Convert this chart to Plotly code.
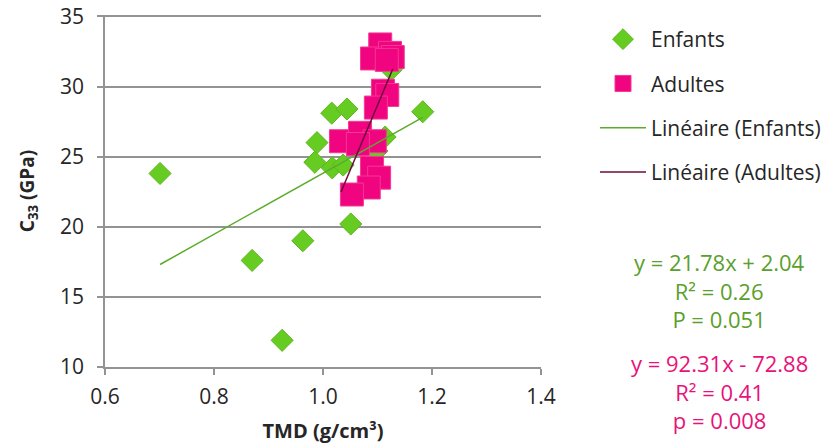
import plotly.graph_objects as go

# Enfants (children)
enf_x = [0.701, 0.870, 0.925, 0.963, 1.051, 0.985, 1.017, 1.037, 0.989, 1.016, 1.044, 1.183, 1.114, 1.099, 1.125]
enf_y = [23.8, 17.6, 11.9, 19.0, 20.2, 24.6, 24.2, 24.4, 26.0, 28.1, 28.4, 28.2, 26.4, 25.4, 31.2]
# Adultes (adults)
adu_x = [1.105, 1.090, 1.123, 1.128, 1.117, 1.110, 1.118, 1.097, 1.033, 1.068, 1.095, 1.064, 1.090, 1.103, 1.084, 1.053]
adu_y = [33.0, 32.0, 32.4, 32.1, 31.9, 29.7, 29.4, 28.5, 26.1, 26.7, 26.1, 25.9, 24.2, 23.5, 22.8, 22.3]

# regression coefficients shown on the chart
enf_slope, enf_icpt = 21.78, 2.04
adu_slope, adu_icpt = 92.31, -72.88

x_ticks = [0.6, 0.8, 1.0, 1.2, 1.4]
x_tick_labels = ["0.6", "0.8", "1.0", "1.2", "1.4"]
y_ticks = [10, 15, 20, 25, 30, 35]

ann_green = ["y = 21.78x + 2.04", "R² = 0.26", "P = 0.051"]
ann_pink = ["y = 92.31x - 72.88", "R² = 0.41", "p = 0.008"]

GREEN = "#66cc22"
PINK = "#f0047f"
FONT = "Open Sans"
TXT = "#262626"
AXC = "#939393"

W, H = 828, 446
PX0, PX1, PY0, PY1 = 105, 541, 15, 367   # plot area in page pixels
L, R, T, B = PX0, W - PX1, PY0, H - PY1
pw, ph = W - L - R, H - T - B


def px_to_paper(x, y):
    return (x - PX0) / pw, 1 - (y - PY0) / ph


fig = go.Figure()

fig.add_trace(go.Scatter(
    x=enf_x, y=enf_y, mode="markers", name="Enfants", legendgroup="a",
    marker=dict(symbol="diamond", size=17, color=GREEN,
                line=dict(color="#5cb81e", width=1)),
))
fig.add_trace(go.Scatter(
    x=adu_x, y=adu_y, mode="markers", name="Adultes", legendgroup="b",
    marker=dict(symbol="square", size=23, color=PINK,
                line=dict(color="#f23a95", width=1)),
))

ex = [min(enf_x), max(enf_x)]
fig.add_trace(go.Scatter(
    x=ex, y=[enf_slope * v + enf_icpt for v in ex], mode="lines",
    name="Linéaire (Enfants)", legendgroup="c",
    line=dict(color="#5aac2a", width=1.5),
))
ax = [min(adu_x), max(adu_x)]
fig.add_trace(go.Scatter(
    x=ax, y=[adu_slope * v + adu_icpt for v in ax], mode="lines",
    name="Linéaire (Adultes)", legendgroup="d",
    line=dict(color="#6b0a3a", width=1.5),
))

annotations = []
gx, gy = px_to_paper(719, 290.5)
annotations.append(dict(text="<br>".join(ann_green), x=gx, y=gy, xref="paper", yref="paper",
                        xanchor="center", yanchor="middle", align="center", showarrow=False,
                        font=dict(color="#5aa02c", size=22, family=FONT)))
px_, py_ = px_to_paper(719, 391)
annotations.append(dict(text="<br>".join(ann_pink), x=px_, y=py_, xref="paper", yref="paper",
                        xanchor="center", yanchor="middle", align="center", showarrow=False,
                        font=dict(color="#e8127a", size=22, family=FONT)))

lgx, lgy = px_to_paper(595, 19)

fig.update_layout(
    width=W, height=H,
    margin=dict(l=L, r=R, t=T, b=B, autoexpand=False),
    paper_bgcolor="white", plot_bgcolor="white",
    font=dict(family=FONT, size=21, color=TXT),
    showlegend=True,
    legend=dict(x=lgx, y=lgy, xanchor="left", yanchor="top",
                font=dict(size=21, color=TXT, family=FONT),
                itemwidth=46, tracegroupgap=14, bgcolor="rgba(0,0,0,0)"),
    annotations=annotations,
    xaxis=dict(range=[0.6, 1.4], tickvals=x_ticks, ticktext=x_tick_labels, automargin=False,
               showgrid=False, zeroline=False, showline=True, linecolor=AXC, linewidth=1.5,
               ticks="outside", ticklen=6, tickcolor=AXC, tickwidth=1.5,
               tickfont=dict(size=21, color=TXT), ticklabelstandoff=4,
               title=dict(text="<b>TMD (g/cm³)</b>", font=dict(size=20, color=TXT), standoff=15)),
    yaxis=dict(range=[10, 35.1], tickvals=y_ticks, automargin=False,
               showgrid=True, gridcolor=AXC, gridwidth=1.5, zeroline=False,
               showline=True, linecolor=AXC, linewidth=1.5,
               ticks="outside", ticklen=6, tickcolor=AXC, tickwidth=1.5,
               tickfont=dict(size=21, color=TXT), ticklabelstandoff=9,
               title=dict(text="<b>C<sub>33</sub> (GPa)</b>", font=dict(size=19, color=TXT), standoff=20)),
)

fig.write_html("out.html", config={"displayModeBar": False},
               post_script="document.body.style.margin='0';document.body.style.overflow='hidden';")
